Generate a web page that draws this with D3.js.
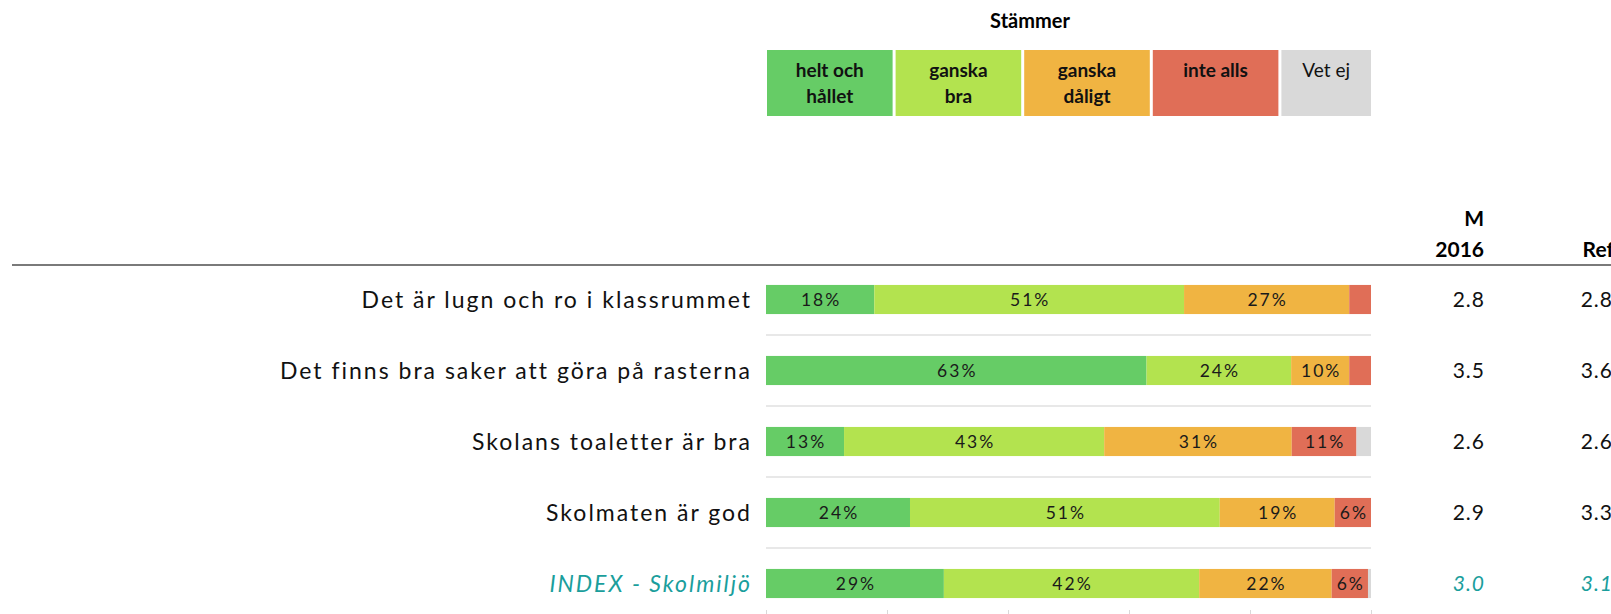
<!DOCTYPE html>
<html>
<head>
<meta charset="utf-8">
<script src="https://cdn.jsdelivr.net/npm/d3@7"></script>
<style>
  body { margin: 0; background: #fff; }
  svg { display: block; font-family: Lato, "Open Sans", sans-serif; }
</style>
</head>
<body>
<div id="main"></div>
<script>
// DATA (percent of answers)
var categories = ['Det är lugn och ro i klassrummet', 'Det finns bra saker att göra på rasterna',
  'Skolans toaletter är bra', 'Skolmaten är god', 'INDEX - Skolmiljö']
var answers = ['helt och hållet', 'ganska bra', 'ganska dåligt', 'inte alls', 'Vet ej']
var legend_lines = [['helt och', 'hållet'], ['ganska', 'bra'], ['ganska', 'dåligt'], ['inte alls'], ['Vet ej']]
var helt_och_hallet = [17.9, 62.9, 12.9, 23.8, 29.4]
var ganska_bra = [51.2, 23.9, 43.0, 51.2, 42.2]
var ganska_daligt = [27.3, 9.6, 31.0, 19.0, 21.9]
var inte_alls = [3.6, 3.6, 10.7, 6.0, 6.0]
var vet_ej = [0, 0, 2.4, 0, 0.5]
var mean_2016 = [2.8, 3.5, 2.6, 2.9, 3.0]
var mean_ref = [2.8, 3.6, 2.6, 3.3, 3.1]
var x_ticks = [0, 20, 40, 60, 80, 100]

var colors = ['#66cc66', '#b3e34f', '#f0b442', '#e06e57', '#d9d9d9']
var index_color = '#1a9e9c'

// build rows: one object per category with stacked segments
var series = [helt_och_hallet, ganska_bra, ganska_daligt, inte_alls, vet_ej]
var rows = categories.map(function (c, i) {
  var row = {category: c}
  answers.forEach(function (a, j) { row[a] = series[j][i] })
  return row
})
var stacked = d3.stack().keys(answers)(rows)

var width = 1611, height = 614
var svg = d3.select('#main').append('svg')
  .attr('width', width).attr('height', height)

var x = d3.scaleLinear().domain([0, 100]).range([766, 1371])
var y = d3.scaleBand().domain(categories).range([264, 619])
  .paddingInner(0.59).paddingOuter(0.295)

// LEGEND
svg.append('text')
  .attr('x', 1030).attr('y', 28)
  .attr('text-anchor', 'middle')
  .style('font-weight', 'bold').style('font-size', '20px')
  .text('Stämmer')

var lx = d3.scaleBand().domain(answers).range([767, 767 + 5 * 128.6])
var leg = svg.selectAll('g.leg').data(answers).join('g').attr('class', 'leg')
leg.append('rect')
  .attr('x', d => lx(d))
  .attr('y', 50)
  .attr('width', (d, i) => i < 4 ? lx.step() - 3 : x(100) - lx(d))
  .attr('height', 66)
  .attr('fill', (d, i) => colors[i])
leg.each(function (d, i) {
  var t = d3.select(this).append('text')
    .attr('text-anchor', 'middle')
    .style('font-size', '19px')
    .style('font-weight', i < 4 ? 'bold' : 'normal')
    .attr('fill', '#111')
  var cx = i < 4 ? lx(d) + (lx.step() - 3) / 2 : (lx(d) + x(100)) / 2
  legend_lines[i].forEach(function (line, k) {
    t.append('tspan').attr('x', cx).attr('y', 77 + k * 26).text(line)
  })
})

// HEADER
svg.append('line')
  .attr('x1', 12).attr('x2', width).attr('y1', 265).attr('y2', 265)
  .attr('stroke', '#7a7a7a').attr('stroke-width', 2)
var head = svg.append('g').style('font-weight', 'bold').style('font-size', '21px')
  .attr('text-anchor', 'end')
head.append('text').attr('x', 1484).attr('y', 226).text('M')
head.append('text').attr('x', 1484).attr('y', 257).text('2016')
head.append('text').attr('x', 1614).attr('y', 257).text('Ref')

// separators between rows
svg.selectAll('line.sep').data(categories.slice(0, 4)).join('line')
  .attr('class', 'sep')
  .attr('x1', x(0)).attr('x2', x(100))
  .attr('y1', d => y(d) + y.bandwidth() + (y.step() - y.bandwidth()) / 2)
  .attr('y2', d => y(d) + y.bandwidth() + (y.step() - y.bandwidth()) / 2)
  .attr('stroke', '#e0e0e0').attr('stroke-width', 1.5)

// BARS
var layer = svg.selectAll('g.layer').data(stacked).join('g')
  .attr('class', 'layer')
  .attr('fill', (d, i) => colors[i])
layer.selectAll('rect').data(d => d).join('rect')
  .attr('x', d => x(d[0]))
  .attr('y', d => y(d.data.category))
  .attr('width', d => x(d[1]) - x(d[0]))
  .attr('height', y.bandwidth())

// value labels inside segments (skip small ones and 'Vet ej')
stacked.slice(0, 4).forEach(function (s) {
  svg.append('g').selectAll('text').data(s.filter(d => d[1] - d[0] >= 5)).join('text')
    .attr('x', d => (x(d[0]) + x(d[1])) / 2 + 1)
    .attr('y', d => y(d.data.category) + y.bandwidth() / 2)
    .attr('dy', '0.36em')
    .attr('text-anchor', 'middle')
    .style('font-size', '17.5px')
    .style('letter-spacing', '2px')
    .attr('fill', '#1a1a1a')
    .text(d => Math.round(d[1] - d[0]) + '%')
})

// category labels
var is_index = d => d.indexOf('INDEX') == 0
svg.append('g').selectAll('text').data(categories).join('text')
  .attr('x', 752)
  .attr('y', d => y(d) + y.bandwidth() / 2)
  .attr('dy', '0.36em')
  .attr('text-anchor', 'end')
  .style('font-size', '23px')
  .style('letter-spacing', '2px')
  .style('font-style', d => is_index(d) ? 'italic' : 'normal')
  .attr('fill', d => is_index(d) ? index_color : '#111')
  .text(d => d)

// mean columns
function mean_column(values, xpos) {
  svg.append('g').selectAll('text').data(values).join('text')
    .attr('x', xpos)
    .attr('y', (d, i) => y(categories[i]) + y.bandwidth() / 2)
    .attr('dy', '0.36em')
    .attr('text-anchor', 'end')
    .style('font-size', '21px')
    .style('letter-spacing', '1px')
    .style('font-style', (d, i) => is_index(categories[i]) ? 'italic' : 'normal')
    .attr('fill', (d, i) => is_index(categories[i]) ? index_color : '#111')
    .text(d => d.toFixed(1))
}
mean_column(mean_2016, 1485)
mean_column(mean_ref, 1613)

// bottom axis ticks (axis line itself falls below the picture)
var axis = svg.append('g')
  .attr('transform', 'translate(0,' + (y.range()[1] - 1) + ')')
  .call(d3.axisBottom(x).tickValues(x_ticks).tickSize(-8).tickFormat(''))
axis.selectAll('line').attr('stroke', '#d9d9d9')
axis.select('.domain').attr('stroke', '#d9d9d9')
</script>
</body>
</html>
